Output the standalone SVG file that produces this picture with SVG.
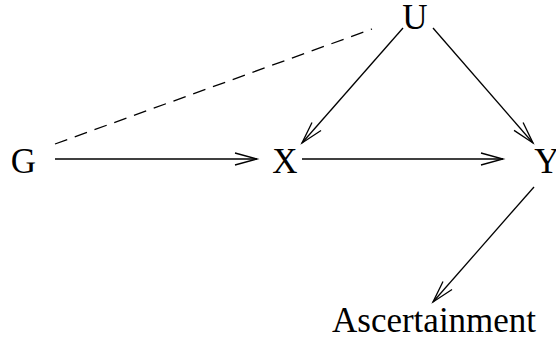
<svg xmlns="http://www.w3.org/2000/svg" width="556" height="341" viewBox="0 0 556 341">
<style>
text{font-family:"Liberation Serif","Times New Roman",serif;font-size:35px;fill:#000}
.e{stroke:#000;stroke-width:1.3;fill:none}
.d{stroke-dasharray:13 8}
</style>
<defs>
<marker id="a" markerUnits="userSpaceOnUse" markerWidth="30" markerHeight="20" refX="0" refY="0" viewBox="-26 -10 30 20" orient="auto" overflow="visible">
<path d="M-22,-6 L0,0 L-22,6" fill="none" stroke="#000" stroke-width="1.3"/>
</marker>
</defs>
<rect width="556" height="341" fill="#fff"/>
<g id="connectors">
<line class="e d" x1="55" y1="144" x2="372" y2="29"/>
<line class="e" x1="55" y1="159" x2="257" y2="159" marker-end="url(#a)"/>
<line class="e" x1="302" y1="159" x2="503" y2="159" marker-end="url(#a)"/>
<line class="e" x1="403" y1="28" x2="302" y2="143" marker-end="url(#a)"/>
<line class="e" x1="433" y1="28" x2="533" y2="143" marker-end="url(#a)"/>
<line class="e" x1="534" y1="187" x2="433" y2="302" marker-end="url(#a)"/>
</g>
<g id="U"><text x="415" y="28.5" text-anchor="middle">U</text></g>
<g id="G"><text x="23.5" y="173" text-anchor="middle">G</text></g>
<g id="X"><text x="285" y="173" text-anchor="middle">X</text></g>
<g id="Y"><text x="547" y="173" text-anchor="middle">Y</text></g>
<g id="Ascertainment"><text x="332" y="332">Ascertainment</text></g>
</svg>
